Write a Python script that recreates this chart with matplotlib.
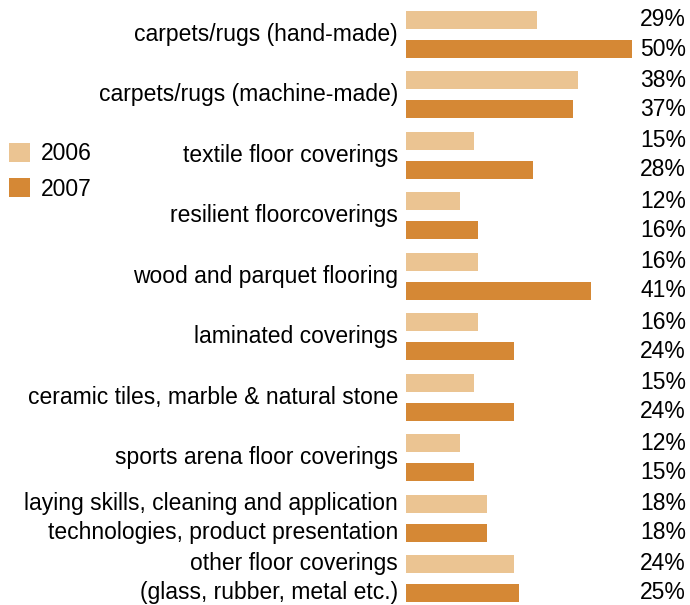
import matplotlib
matplotlib.use("Agg")
import matplotlib.pyplot as plt
import matplotlib.transforms as mtransforms
from matplotlib.patches import Patch

categories = [
    "carpets/rugs (hand-made)",
    "carpets/rugs (machine-made)",
    "textile floor coverings",
    "resilient floorcoverings",
    "wood and parquet flooring",
    "laminated coverings",
    "ceramic tiles, marble & natural stone",
    "sports arena floor coverings",
    "laying skills, cleaning and application\ntechnologies, product presentation",
    "other floor coverings\n(glass, rubber, metal etc.)",
]
values_2006 = [29, 38, 15, 12, 16, 16, 15, 12, 18, 24]
values_2007 = [50, 37, 28, 16, 41, 24, 24, 15, 18, 25]
series_names = ["2006", "2007"]
colors = ["#EBC492", "#D58835"]

plt.rcParams["font.family"] = ["Liberation Sans", "DejaVu Sans"]
FS = 16.5

W, H, DPI = 690, 605, 100
fig = plt.figure(figsize=(W / DPI, H / DPI), dpi=DPI)

x0, x1 = 406, 632
ax = fig.add_axes([x0 / W, 0, (x1 - x0) / W, 1])
ax.set_xlim(0, 50)
pitch = 60.44
ylo = -34.5 / pitch
yhi = (H - 34.5) / pitch
ax.set_ylim(yhi, ylo)
ax.axis("off")

off = 0.24
bh = 18 / pitch
n = len(categories)
ys = list(range(n))
ax.barh([y - off for y in ys], values_2006, height=bh, color=colors[0], left=0)
ax.barh([y + off for y in ys], values_2007, height=bh, color=colors[1], left=0)

left_tr = ax.get_yaxis_transform() + mtransforms.ScaledTranslation(-8 / DPI, 0, fig.dpi_scale_trans)
right_tr = mtransforms.blended_transform_factory(ax.transAxes, ax.transData) + \
    mtransforms.ScaledTranslation(54 / DPI, 0, fig.dpi_scale_trans)

for i, cat in enumerate(categories):
    if "\n" in cat:
        a, b = cat.split("\n")
        ax.text(0, i - off, a, transform=left_tr, ha="right", va="center", fontsize=FS)
        ax.text(0, i + off, b, transform=left_tr, ha="right", va="center", fontsize=FS)
    else:
        ax.text(0, i, cat, transform=left_tr, ha="right", va="center", fontsize=FS)
    ax.text(1, i - off, f"{values_2006[i]}%", transform=right_tr, ha="right", va="center", fontsize=FS)
    ax.text(1, i + off, f"{values_2007[i]}%", transform=right_tr, ha="right", va="center", fontsize=FS)

handles = [Patch(facecolor=c, edgecolor="none") for c in colors]
fig.legend(handles, series_names, loc="upper left", bbox_to_anchor=(0 / W, 1 - 133 / H),
           frameon=False, fontsize=FS, handlelength=0.9, handleheight=0.9,
           handletextpad=0.5, labelspacing=0.55, borderaxespad=0, borderpad=0.4)

fig.savefig("out.png", dpi=DPI)
